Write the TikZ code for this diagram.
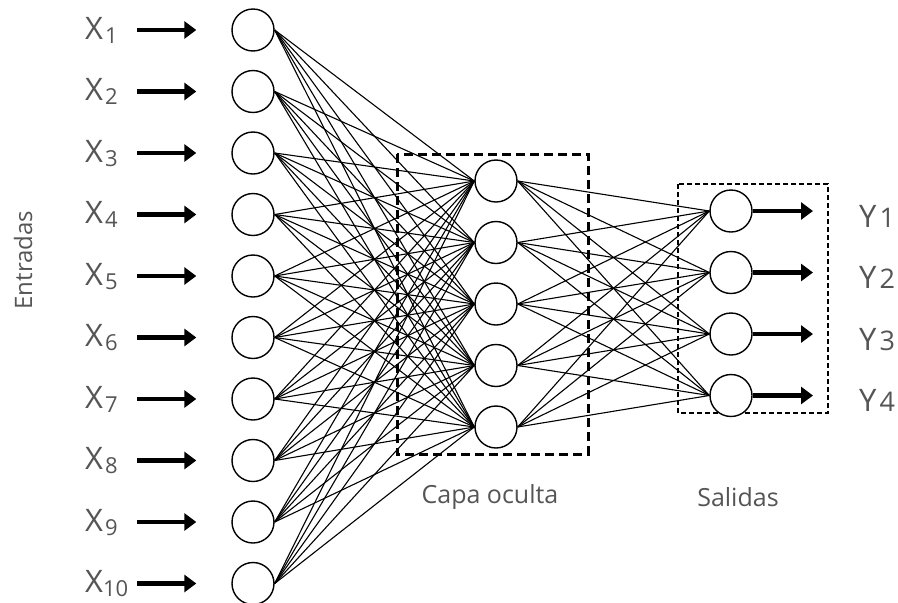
\documentclass[tikz,border=0pt]{standalone}
\usepackage{fontspec}
\setmainfont{Open Sans}
\usetikzlibrary{arrows.meta}

\definecolor{txtgray}{HTML}{555555}
\tikzset{
  neuron/.style={circle,draw,line width=1.4pt,minimum size=42pt,inner sep=0pt,fill=white},
  link/.style={line width=1.1pt},
  bigarrow/.style={line width=4.8pt,-{Triangle[length=12pt,width=17pt]}},
  hidbox/.style={draw,line width=3pt,dash pattern=on 9pt off 5pt},
  outbox/.style={draw,line width=2pt,dash pattern=on 5pt off 3pt},
  lbl/.style={text=txtgray,inner sep=0pt}
}
\newcommand{\bigsz}{\fontsize{31}{31}\selectfont}
\newcommand{\subsz}{\fontsize{22}{22}\selectfont}

\begin{document}
\begin{tikzpicture}[x=1pt,y=-1pt]
\useasboundingbox (0,0) rectangle (898,603);

% boxes
\draw[hidbox] (397,154) rectangle (588,454);
\draw[outbox] (678,184) rectangle (828,413);

% neurons
\foreach \i in {1,...,10}
  \node[neuron] (in\i) at (253,{30+61.5*(\i-1)}) {};
\foreach \j in {1,...,5}
  \node[neuron] (hid\j) at (496,{181+61.5*(\j-1)}) {};
\foreach \k in {1,...,4}
  \node[neuron] (out\k) at (731,{211+61.5*(\k-1)}) {};

% links
\foreach \i in {1,...,10}
  \foreach \j in {1,...,5}
    \draw[link] (in\i.east) -- (hid\j.west);
\foreach \j in {1,...,5}
  \foreach \k in {1,...,4}
    \draw[link] (hid\j.east) -- (out\k.west);

% inputs
\foreach \i in {1,...,10}{
  \node[lbl,anchor=base west] (x\i) at (85,{39+61.5*(\i-1)})
    {\bigsz X\ifnum\i<10\kern2pt\fi\raisebox{-4pt}{\subsz\i}};
  \coordinate (s\i) at (137,{30+61.5*(\i-1)});
  \draw[bigarrow,shorten >=35pt] (s\i) -- (in\i);
}

% outputs
\foreach \k in {1,...,4}{
  \coordinate (e\k) at (813,{211+61.5*(\k-1)});
  \draw[bigarrow] (out\k.east) -- (e\k);
  \node[lbl,anchor=base west] (y\k) at (859,{227+61.5*(\k-1)})
    {\bigsz Y\kern3pt{\fontsize{27}{27}\selectfont\k}};
}

\node[lbl,rotate=90] (entradas) at (23,260) {\fontsize{24}{24}\selectfont Entradas};
\node[lbl] (capa) at (490,497) {\fontsize{25}{25}\selectfont Capa oculta};
\node[lbl] (salidas) at (738,497) {\fontsize{25}{25}\selectfont Salidas};
\end{tikzpicture}
\end{document}
